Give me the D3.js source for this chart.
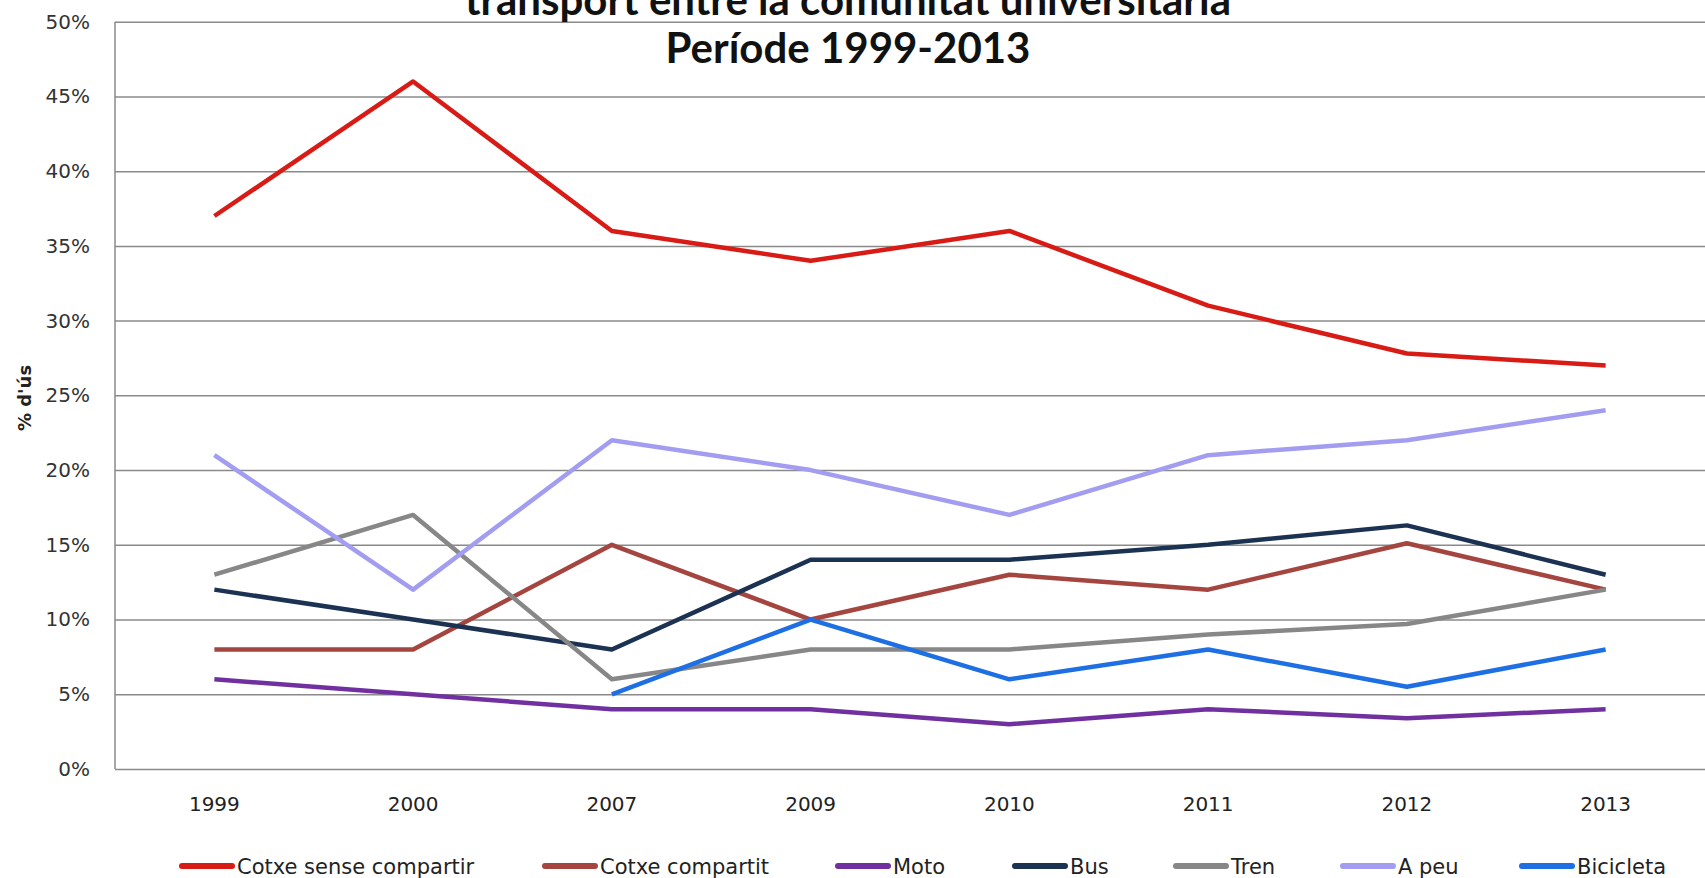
<!DOCTYPE html>
<html lang="ca">
<head>
    <meta charset="utf-8">
    <script src="https://cdn.jsdelivr.net/npm/d3@7/dist/d3.min.js"></script>
    <style>
        body { margin: 0; background: #fff; }
        text { font-family: "DejaVu Sans", sans-serif; }
        .grid line { stroke: #8a8a8a; stroke-width: 1.5; }
        .series { fill: none; stroke-width: 4.5; stroke-linejoin: round; }
        .title { font-family: "Lato", sans-serif; font-weight: bold; font-size: 42px; fill: #111; }
    </style>
</head>
<body>
<script>

    // categories and values (% d'ús)
    let years = ['1999', '2000', '2007', '2009', '2010', '2011', '2012', '2013'];
    let cotxeSense = [37, 46, 36, 34, 36, 31, 27.8, 27];
    let cotxeCompartit = [8, 8, 15, 10, 13, 12, 15.1, 12];
    let moto = [6, 5, 4, 4, 3, 4, 3.4, 4];
    let bus = [12, 10, 8, 14, 14, 15, 16.3, 13];
    let tren = [13, 17, 6, 8, 8, 9, 9.7, 12];
    let aPeu = [21, 12, 22, 20, 17, 21, 22, 24];
    let bicicleta = [null, null, 5, 10, 6, 8, 5.5, 8];
    let seriesNames = ['Cotxe sense compartir', 'Cotxe compartit', 'Moto', 'Bus', 'Tren', 'A peu', 'Bicicleta'];
    let yTicks = [0, 5, 10, 15, 20, 25, 30, 35, 40, 45, 50];

    let colors = ['#d81b15', '#a5453f', '#7030a0', '#1b3252', '#878787', '#a29df0', '#1d6fe3'];
    let allSeries = [cotxeSense, cotxeCompartit, moto, bus, tren, aPeu, bicicleta];

    let W = 1705, H = 878;
    let plotLeft = 115, plotRight = 1705, plotTop = 21.7, plotBottom = 769;

    let svg = d3.select('body').append('svg')
        .attr('width', W).attr('height', H);

    let x = d3.scaleBand().domain(years).range([plotLeft, plotRight]);
    let y = d3.scaleLinear().domain([0, 50]).range([plotBottom, plotTop]);

    // gridlines + y labels
    let yAxis = svg.append('g').attr('class', 'grid')
        .attr('transform', 'translate(' + plotLeft + ',0)')
        .call(d3.axisLeft(y).tickValues(yTicks).tickSize(-(plotRight - plotLeft)).tickPadding(25)
            .tickFormat(function (d) { return d + '%'; }));
    yAxis.select('.domain').remove();
    yAxis.selectAll('text').attr('fill', '#333').style('font-size', '20px').style('font-family', '"DejaVu Sans", sans-serif');

    svg.append('line')
        .attr('x1', plotLeft).attr('x2', plotLeft).attr('y1', plotTop).attr('y2', plotBottom)
        .attr('stroke', '#8a8a8a').attr('stroke-width', 1.5);

    // x labels
    let xAxis = svg.append('g')
        .attr('transform', 'translate(0,' + plotBottom + ')')
        .call(d3.axisBottom(x).tickSize(0).tickPadding(28));
    xAxis.select('.domain').remove();
    xAxis.selectAll('text').attr('fill', '#222').style('font-size', '20px').style('font-family', '"DejaVu Sans", sans-serif');

    // lines
    let line = d3.line()
        .defined(function (d) { return d != null; })
        .x(function (d, i) { return x(years[i]) + x.bandwidth() / 2; })
        .y(function (d) { return y(d); });

    svg.append('g').selectAll('path')
        .data(allSeries)
        .enter().append('path')
        .attr('class', 'series')
        .attr('stroke', function (d, i) { return colors[i]; })
        .attr('d', line);

    // titles (first line is cut by the top edge, as in the original)
    svg.append('text').attr('class', 'title').attr('x', 848).attr('y', 15)
        .attr('text-anchor', 'middle')
        .text('transport entre la comunitat universitària');
    svg.append('text').attr('class', 'title').attr('x', 848).attr('y', 63)
        .attr('text-anchor', 'middle')
        .text('Període 1999-2013');

    svg.append('text')
        .attr('transform', 'translate(31,398) rotate(-90)')
        .attr('text-anchor', 'middle').style('font-size', '18px').style('font-weight', 'bold')
        .attr('fill', '#222')
        .text("% d'ús");

    // legend
    let legendX = [179, 542, 835, 1012, 1173, 1340, 1519];
    let legend = svg.append('g').selectAll('g')
        .data(seriesNames)
        .enter().append('g')
        .attr('transform', function (d, i) { return 'translate(' + legendX[i] + ',866)'; });
    legend.append('line')
        .attr('x1', 3).attr('x2', 53)
        .attr('stroke', function (d, i) { return colors[i]; })
        .attr('stroke-width', 6).attr('stroke-linecap', 'round');
    legend.append('text')
        .attr('x', 58).attr('dy', '0.36em')
        .style('font-size', '21px').attr('fill', '#222')
        .text(function (d) { return d; });

</script>
</body>
</html>
